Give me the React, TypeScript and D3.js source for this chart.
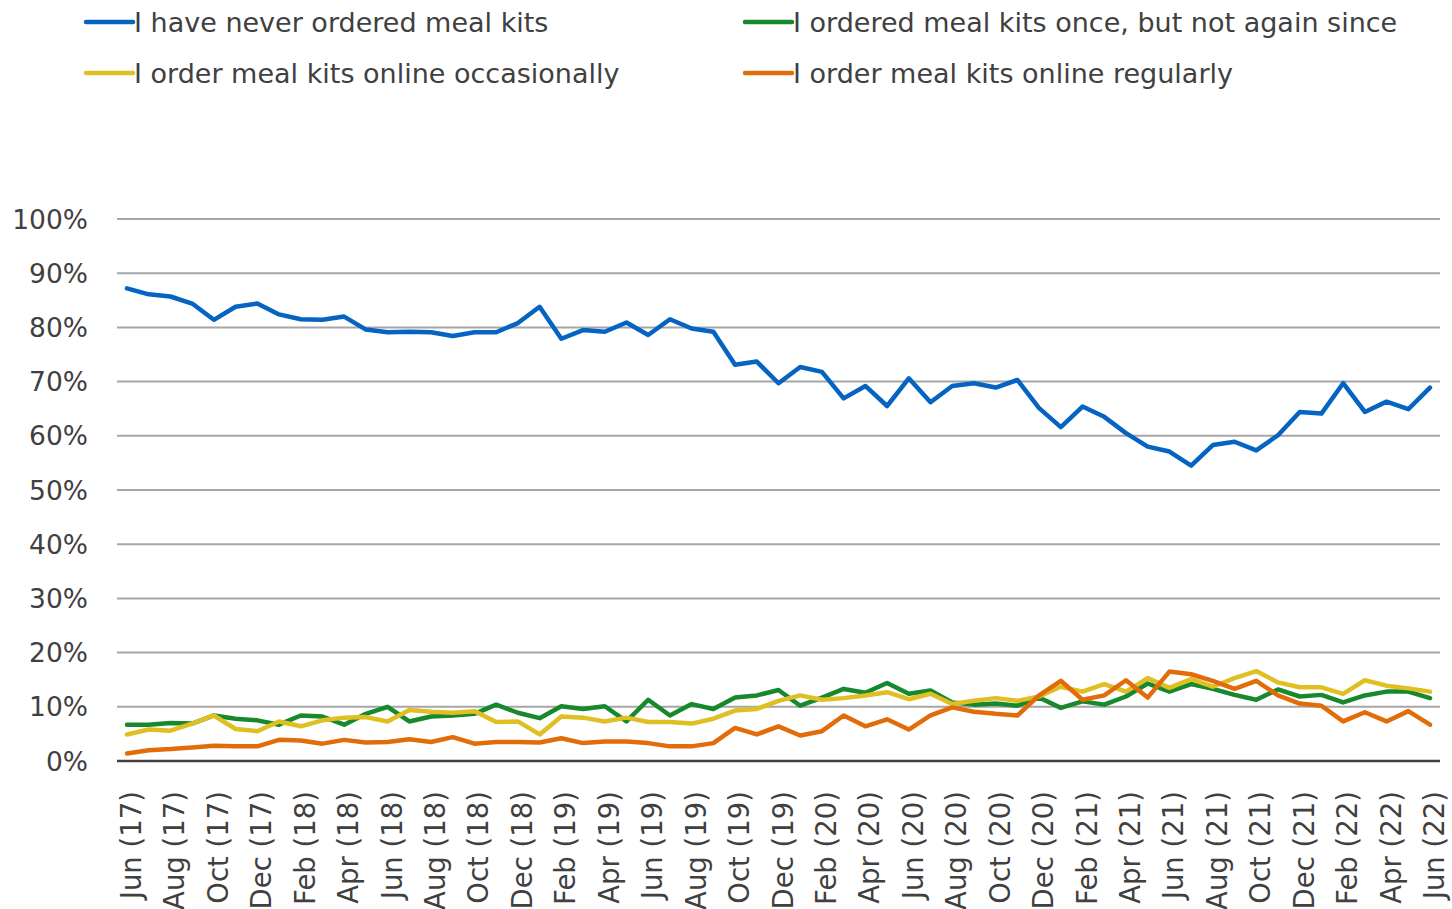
import React, { useEffect, useRef } from 'react';
import * as d3 from 'd3';

const months = [
  'Jun (17)', 'Jul (17)', 'Aug (17)', 'Sep (17)', 'Oct (17)', 'Nov (17)', 'Dec (17)', 'Jan (18)', 'Feb (18)', 'Mar (18)', 'Apr (18)', 'May (18)',
  'Jun (18)', 'Jul (18)', 'Aug (18)', 'Sep (18)', 'Oct (18)', 'Nov (18)', 'Dec (18)', 'Jan (19)', 'Feb (19)', 'Mar (19)', 'Apr (19)', 'May (19)',
  'Jun (19)', 'Jul (19)', 'Aug (19)', 'Sep (19)', 'Oct (19)', 'Nov (19)', 'Dec (19)', 'Jan (20)', 'Feb (20)', 'Mar (20)', 'Apr (20)', 'May (20)',
  'Jun (20)', 'Jul (20)', 'Aug (20)', 'Sep (20)', 'Oct (20)', 'Nov (20)', 'Dec (20)', 'Jan (21)', 'Feb (21)', 'Mar (21)', 'Apr (21)', 'May (21)',
  'Jun (21)', 'Jul (21)', 'Aug (21)', 'Sep (21)', 'Oct (21)', 'Nov (21)', 'Dec (21)', 'Jan (22)', 'Feb (22)', 'Mar (22)', 'Apr (22)', 'May (22)',
  'Jun (22)',
];

const neverOrdered = [
  87.2, 86.1, 85.7, 84.4, 81.4, 83.8, 84.4, 82.4, 81.5, 81.4, 82.0, 79.6,
  79.1, 79.2, 79.1, 78.4, 79.1, 79.1, 80.8, 83.8, 77.9, 79.5, 79.2, 80.9,
  78.6, 81.5, 79.8, 79.2, 73.1, 73.7, 69.7, 72.7, 71.8, 66.9, 69.2, 65.5,
  70.6, 66.2, 69.2, 69.7, 68.9, 70.3, 65.1, 61.6, 65.4, 63.5, 60.5, 58.0,
  57.1, 54.5, 58.3, 58.9, 57.3, 60.1, 64.4, 64.1, 69.7, 64.4, 66.3, 64.9,
  68.9,
];

const orderedOnce = [
  6.7, 6.7, 7.0, 6.9, 8.4, 7.8, 7.5, 6.7, 8.4, 8.2, 6.7, 8.7,
  10.0, 7.3, 8.2, 8.4, 8.7, 10.4, 8.9, 7.9, 10.1, 9.6, 10.1, 7.3,
  11.3, 8.4, 10.5, 9.6, 11.7, 12.1, 13.1, 10.2, 11.7, 13.3, 12.6, 14.4,
  12.4, 13.0, 10.8, 10.4, 10.6, 10.2, 11.7, 9.8, 11.0, 10.4, 11.9, 14.3,
  12.8, 14.2, 13.3, 12.2, 11.3, 13.2, 11.9, 12.2, 10.8, 12.1, 12.8, 12.8,
  11.6,
];

const occasionally = [
  4.9, 5.8, 5.6, 6.9, 8.4, 5.9, 5.5, 7.3, 6.4, 7.5, 8.0, 8.1,
  7.3, 9.4, 9.1, 8.9, 9.2, 7.2, 7.3, 4.9, 8.2, 8.0, 7.3, 8.0,
  7.2, 7.2, 6.9, 7.8, 9.3, 9.6, 11.1, 12.1, 11.3, 11.6, 12.1, 12.7,
  11.4, 12.4, 10.5, 11.1, 11.6, 11.1, 11.9, 13.7, 12.8, 14.2, 12.8, 15.3,
  13.5, 15.1, 13.7, 15.3, 16.6, 14.5, 13.6, 13.6, 12.4, 14.9, 13.9, 13.4,
  12.8,
];

const regularly = [
  1.4, 2.0, 2.2, 2.5, 2.8, 2.7, 2.7, 3.9, 3.8, 3.2, 3.9, 3.4,
  3.5, 4.0, 3.5, 4.4, 3.2, 3.5, 3.5, 3.4, 4.2, 3.3, 3.6, 3.6,
  3.3, 2.7, 2.7, 3.3, 6.1, 4.9, 6.4, 4.7, 5.5, 8.4, 6.4, 7.7,
  5.8, 8.4, 9.9, 9.1, 8.7, 8.4, 12.1, 14.8, 11.3, 12.1, 14.9, 11.7,
  16.5, 16.0, 14.8, 13.3, 14.8, 12.1, 10.6, 10.2, 7.3, 9.0, 7.3, 9.2,
  6.7,
];

const yTicks = [0, 10, 20, 30, 40, 50, 60, 70, 80, 90, 100];

const App = () => {
  const ref = useRef<SVGSVGElement>(null);

  useEffect(() => {
    const font = '"DejaVu Sans", sans-serif';
    const textColor = '#404040';

    const series = [
      { name: 'I have never ordered meal kits', values: neverOrdered, color: '#0563c1' },
      { name: 'I ordered meal kits once, but not again since', values: orderedOnce, color: '#17892c' },
      { name: 'I order meal kits online occasionally', values: occasionally, color: '#dfbf22' },
      { name: 'I order meal kits online regularly', values: regularly, color: '#e36c0a' },
    ];

    const x = d3.scalePoint<string>()
      .domain(months)
      .range([127, 1430]);

    const y = d3.scaleLinear()
      .domain([0, 100])
      .range([761, 219]);

    const svg = d3.select(ref.current);
    svg.selectAll('*').remove();

    // gridlines
    svg.append('g')
      .selectAll('line')
      .data(yTicks.filter(d => d > 0))
      .enter()
      .append('line')
      .attr('x1', 117)
      .attr('x2', 1440)
      .attr('y1', d => y(d))
      .attr('y2', d => y(d))
      .attr('stroke', '#a6a6a6')
      .attr('stroke-width', 2);

    // y labels
    svg.append('g')
      .selectAll('text')
      .data(yTicks)
      .enter()
      .append('text')
      .attr('x', 88)
      .attr('y', d => y(d))
      .attr('dy', '0.36em')
      .attr('text-anchor', 'end')
      .attr('font-family', font)
      .attr('font-size', 26.5)
      .attr('fill', textColor)
      .text(d => `${d}%`);

    // lines
    const line = d3.line<number>()
      .x((d, i) => x(months[i]) as number)
      .y(d => y(d));

    svg.append('g')
      .selectAll('path')
      .data(series)
      .enter()
      .append('path')
      .attr('d', d => line(d.values))
      .attr('fill', 'none')
      .attr('stroke', d => d.color)
      .attr('stroke-width', 4.5)
      .attr('stroke-linejoin', 'round')
      .attr('stroke-linecap', 'round');

    // zero axis
    svg.append('line')
      .attr('x1', 117)
      .attr('x2', 1440)
      .attr('y1', y(0))
      .attr('y2', y(0))
      .attr('stroke', '#404040')
      .attr('stroke-width', 2.5);

    // x labels, every second month
    svg.append('g')
      .selectAll('text')
      .data(months.filter((d, i) => i % 2 === 0))
      .enter()
      .append('text')
      .attr('transform', d => `translate(${(x(d) as number) + 14},791) rotate(-90)`)
      .attr('text-anchor', 'end')
      .attr('font-family', font)
      .attr('font-size', 27.5)
      .attr('fill', textColor)
      .text(d => d);

    // legend
    const legendPos = [
      [86, 22], [745, 22], [86, 73], [745, 73],
    ];
    const legend = svg.append('g')
      .selectAll('g')
      .data(series)
      .enter()
      .append('g')
      .attr('transform', (d, i) => `translate(${legendPos[i][0]},${legendPos[i][1]})`);

    legend.append('line')
      .attr('x1', 0)
      .attr('x2', 47)
      .attr('stroke', d => d.color)
      .attr('stroke-width', 4.5)
      .attr('stroke-linecap', 'round');

    legend.append('text')
      .attr('x', 48)
      .attr('dy', '0.36em')
      .attr('font-family', font)
      .attr('font-size', 27)
      .attr('fill', textColor)
      .text(d => d.name);
  }, []);

  return (
    <svg ref={ref} width={1452} height={909}
      style={{ position: 'absolute', left: 0, top: 0, background: '#fff' }} />
  );
};

export default App;
